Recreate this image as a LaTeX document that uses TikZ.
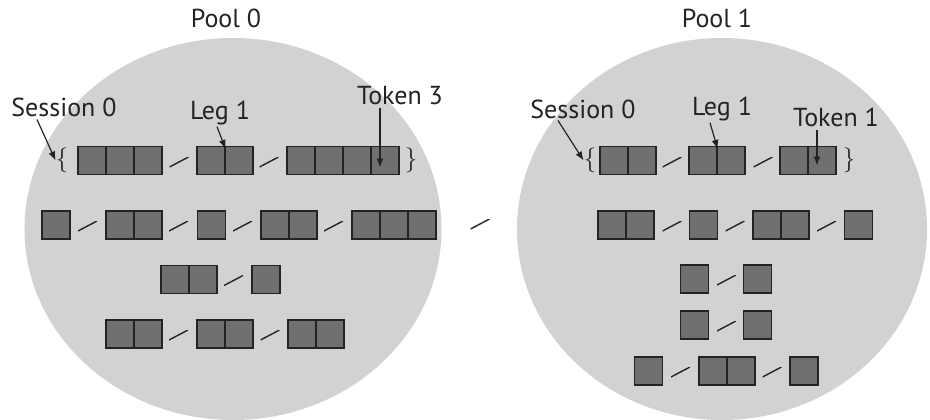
\documentclass[tikz,border=0pt]{standalone}
\usepackage{fontspec}
\setmainfont{PT Sans}
\usepackage{tikz}
\usetikzlibrary{arrows.meta}
\usetikzlibrary{shapes.geometric}
\definecolor{poolgray}{HTML}{D2D2D2}
\definecolor{tokgray}{HTML}{707070}
\definecolor{inkgray}{HTML}{232323}
\tikzset{
    pool/.style={ellipse, fill=poolgray, inner sep=0pt},
    tok/.style={rectangle, draw=inkgray, fill=tokgray, line width=1.2pt, minimum size=28pt, inner sep=0pt},
    sepmark/.style={minimum width=19pt, minimum height=10pt, inner sep=0pt,
        path picture={\draw[inkgray, line width=1.4pt] (path picture bounding box.south west) -- (path picture bounding box.north east);}},
    lbl/.style={text=inkgray, font=\fontsize{26}{30}\selectfont, inner sep=2pt, anchor=base},
    bracemark/.style={text=inkgray, font=\fontsize{30}{34}\selectfont, inner sep=0pt},
    poolarrow/.style={-{Latex[length=9pt,width=7pt]}, line width=1.2pt, draw=inkgray}
}

\begin{document}
\begin{tikzpicture}[x=1pt, y=-1pt]
    \useasboundingbox (0,0) rectangle (930,420);

    \node[pool, minimum width=417pt, minimum height=382pt] (pool0) at (233,229) {};
    \node[pool, minimum width=410pt, minimum height=382pt] (pool1) at (722,229) {};
    \node[lbl] (t0) at (226,28) {Pool 0};
    \node[lbl] (t1) at (717,28) {Pool 1};

    % pool 0, session 0
    \node[bracemark] (lbo) at (62,160.5) {$\{$};
    \node[tok] (l1a) at (92,160.5) {};
    \node[tok] (l1b) at (120,160.5) {};
    \node[tok] (l1c) at (148,160.5) {};
    \node[sepmark] (ls1a) at (179,162) {};
    \node[tok] (l1d) at (211,160.5) {};
    \node[tok] (l1e) at (239,160.5) {};
    \node[sepmark] (ls1b) at (269,162) {};
    \node[tok] (l1f) at (301,160.5) {};
    \node[tok] (l1g) at (329,160.5) {};
    \node[tok] (l1h) at (357,160.5) {};
    \node[tok] (l1i) at (385,160.5) {};
    \node[bracemark] (lbc) at (411,160.5) {$\}$};

    \node[lbl] (ls0) at (64,117) {Session 0};
    \node[lbl] (lleg) at (220,119) {Leg 1};
    \node[lbl] (ltk) at (400,105) {Token 3};
    \draw[poolarrow] ([xshift=-27pt]ls0.south) -- (lbo.west);
    \draw[poolarrow] ([xshift=-3pt]lleg.south) -- ([yshift=-3pt]l1d.north east);
    \draw[poolarrow] ([xshift=-5pt]l1i.center |- ltk.south) -- ([xshift=-5pt,yshift=-7pt]l1i.center);

    % pool 0, other sessions
    \node[tok] (l2a) at (56,225) {};
    \node[sepmark] (ls2a) at (87.5,226) {};
    \node[tok] (l2b) at (120,225) {};
    \node[tok] (l2c) at (148,225) {};
    \node[sepmark] (ls2b) at (178.5,226) {};
    \node[tok] (l2d) at (211.5,225) {};
    \node[sepmark] (ls2c) at (242.5,226) {};
    \node[tok] (l2e) at (275,225) {};
    \node[tok] (l2f) at (303,225) {};
    \node[sepmark] (ls2d) at (333.5,226) {};
    \node[tok] (l2g) at (366,225) {};
    \node[tok] (l2h) at (394,225) {};
    \node[tok] (l2i) at (422,225) {};

    \node[tok] (l3a) at (175,279.5) {};
    \node[tok] (l3b) at (203,279.5) {};
    \node[sepmark] (ls3a) at (233.5,280.5) {};
    \node[tok] (l3c) at (266,279.5) {};

    \node[tok] (l4a) at (120,334) {};
    \node[tok] (l4b) at (148,334) {};
    \node[sepmark] (ls4a) at (178.5,335) {};
    \node[tok] (l4c) at (211,334) {};
    \node[tok] (l4d) at (239,334) {};
    \node[sepmark] (ls4b) at (270,335) {};
    \node[tok] (l4e) at (302,334) {};
    \node[tok] (l4f) at (330,334) {};

    % between the pools
    \node[sepmark] (mid) at (480,224) {};

    % pool 1, session 0
    \node[bracemark] (rbo) at (590,160.5) {$\{$};
    \node[tok] (r1a) at (614,160.5) {};
    \node[tok] (r1b) at (642,160.5) {};
    \node[sepmark] (rs1a) at (672,162) {};
    \node[tok] (r1c) at (703,160.5) {};
    \node[tok] (r1d) at (731,160.5) {};
    \node[sepmark] (rs1b) at (763,162) {};
    \node[tok] (r1e) at (794,160.5) {};
    \node[tok] (r1f) at (822,160.5) {};
    \node[bracemark] (rbc) at (849,160.5) {$\}$};

    \node[lbl] (rs0) at (583,118) {Session 0};
    \node[lbl] (rleg) at (722,115) {Leg 1};
    \node[lbl] (rtk) at (836,127) {Token 1};
    \draw[poolarrow] ([xshift=-25pt]rs0.south) -- (rbo.west);
    \draw[poolarrow] ([xshift=-12pt]rleg.south) -- ([yshift=-3pt]r1c.north east);
    \draw[poolarrow] ([xshift=-5pt]r1f.center |- rtk.south) -- ([xshift=-5pt,yshift=-5pt]r1f.center);

    % pool 1, other sessions
    \node[tok] (r2a) at (612,225) {};
    \node[tok] (r2b) at (640,225) {};
    \node[sepmark] (rs2a) at (672,226) {};
    \node[tok] (r2c) at (703.5,225) {};
    \node[sepmark] (rs2b) at (735,226) {};
    \node[tok] (r2d) at (767,225) {};
    \node[tok] (r2e) at (795,225) {};
    \node[sepmark] (rs2c) at (826.5,226) {};
    \node[tok] (r2f) at (858.5,225) {};

    \node[tok] (r3a) at (694.5,279) {};
    \node[sepmark] (rs3a) at (726.5,280) {};
    \node[tok] (r3b) at (757.5,279) {};

    \node[tok] (r4a) at (694.5,325) {};
    \node[sepmark] (rs4a) at (726.5,326) {};
    \node[tok] (r4b) at (757.5,325) {};

    \node[tok] (r5a) at (648.5,371) {};
    \node[sepmark] (rs5a) at (680.5,372) {};
    \node[tok] (r5b) at (713,371) {};
    \node[tok] (r5c) at (741,371) {};
    \node[sepmark] (rs5b) at (772,372) {};
    \node[tok] (r5d) at (804,371) {};

\end{tikzpicture}
\end{document}
